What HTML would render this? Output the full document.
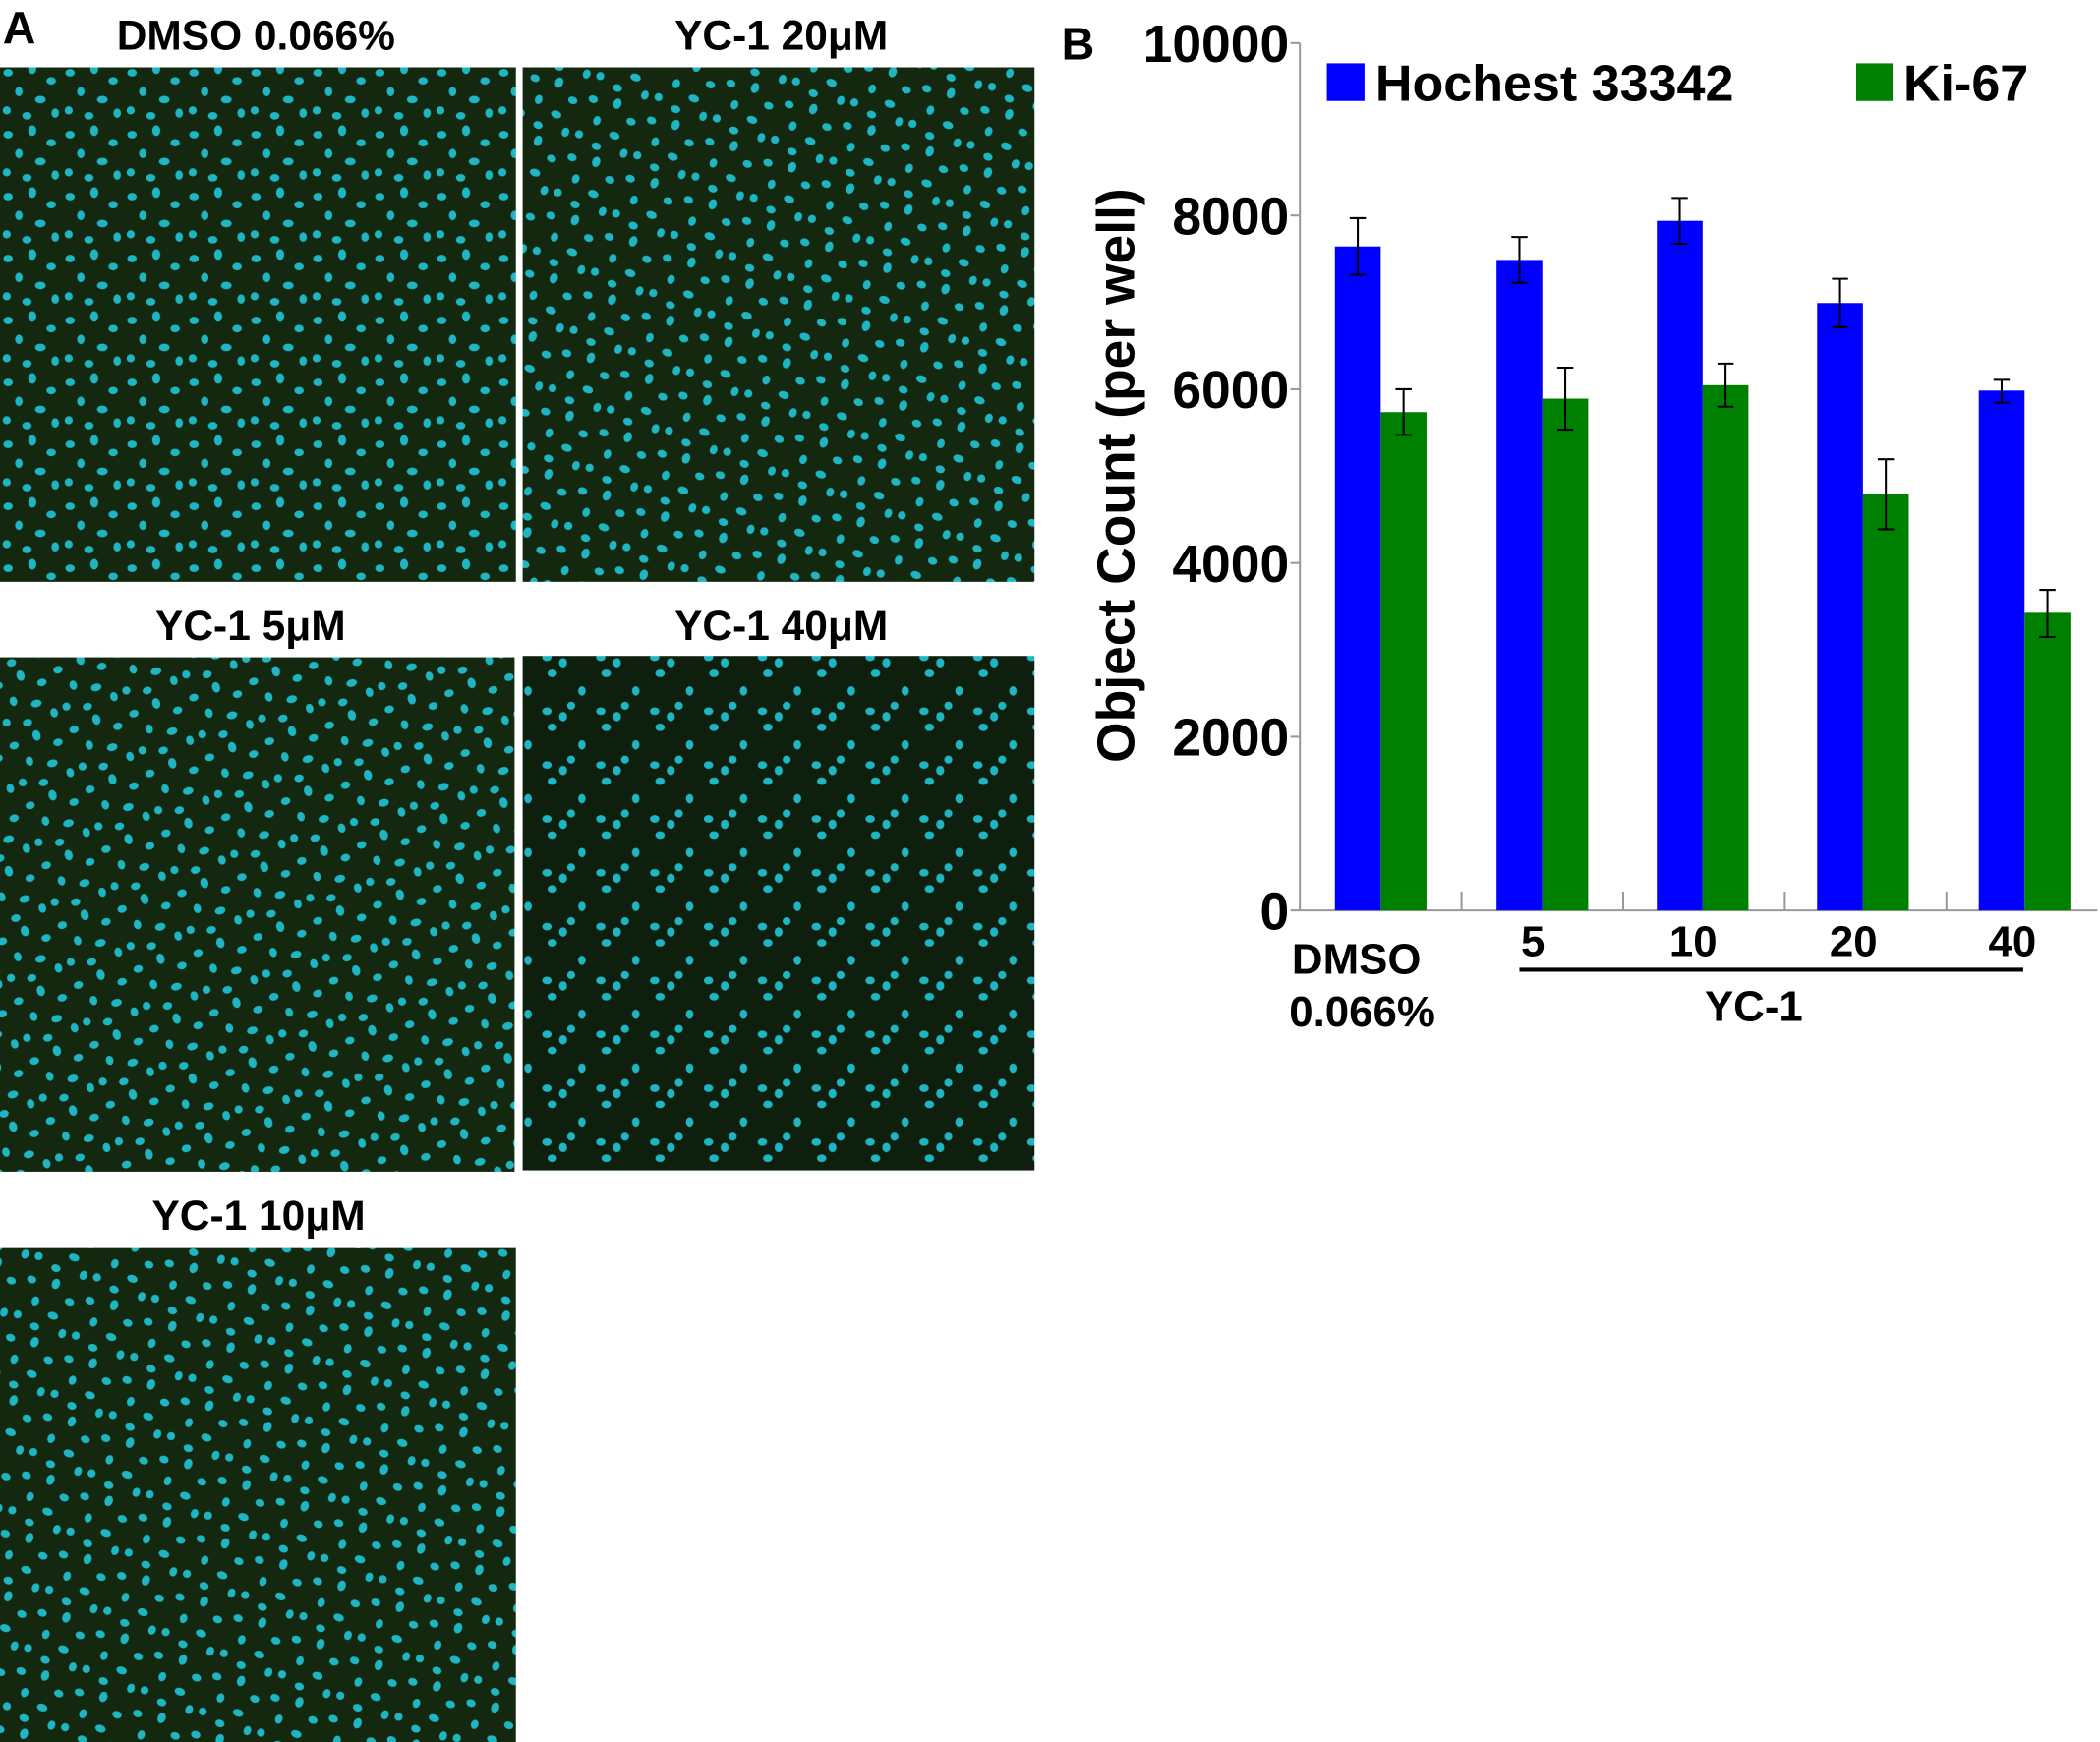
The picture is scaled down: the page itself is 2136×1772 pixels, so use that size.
<!DOCTYPE html>
<html><head><meta charset="utf-8"><style>html,body{margin:0;padding:0;background:#fff}svg{display:block}</style></head>
<body>
<svg width="2136" height="1772" viewBox="0 0 1559 1293.4" preserveAspectRatio="none" xmlns="http://www.w3.org/2000/svg" font-family="Liberation Sans, Arial, sans-serif" font-weight="bold">
<defs>
<pattern id="cells" width="46" height="46" patternUnits="userSpaceOnUse">
<rect width="46" height="46" fill="#13280f"/>
<g fill="#1fb5c2">
<ellipse cx="6" cy="8" rx="3.5" ry="2.8"/>
<ellipse cx="24" cy="5" rx="3" ry="4"/>
<ellipse cx="38" cy="14" rx="3.5" ry="2.8"/>
<ellipse cx="14" cy="22" rx="2.8" ry="3.5"/>
<ellipse cx="30" cy="28" rx="4" ry="2.8"/>
<ellipse cx="5" cy="36" rx="3" ry="3"/>
<ellipse cx="20" cy="40" rx="3.5" ry="2.8"/>
<ellipse cx="41" cy="38" rx="2.8" ry="3.5"/>
</g>
</pattern>
<pattern id="cells2" href="#cells" patternTransform="translate(17,9) rotate(20)"/>
<pattern id="cells3" href="#cells" patternTransform="translate(5,23) rotate(-15)"/>
<pattern id="cells4" width="40" height="40" patternUnits="userSpaceOnUse">
<rect width="40" height="40" fill="#0e1f0d"/>
<g fill="#1fb5c2">
<ellipse cx="6" cy="8" rx="3.5" ry="2.8"/>
<ellipse cx="18" cy="12" rx="3" ry="3.5"/>
<ellipse cx="10" cy="20" rx="3.5" ry="2.8"/>
<ellipse cx="32" cy="33" rx="2.8" ry="3.5"/>
<ellipse cx="24" cy="4" rx="3" ry="3"/>
</g>
</pattern>
</defs>

<text x="2" y="32" font-size="34">A</text>
<text x="190" y="37" font-size="31" text-anchor="middle">DMSO 0.066%</text>
<text x="580" y="37" font-size="31" text-anchor="middle">YC-1 20μM</text>
<text x="186" y="475" font-size="31" text-anchor="middle">YC-1 5μM</text>
<text x="580" y="475" font-size="31" text-anchor="middle">YC-1 40μM</text>
<text x="192" y="913" font-size="31" text-anchor="middle">YC-1 10μM</text>

<rect x="0" y="50" width="383" height="382" fill="url(#cells)"/>
<rect x="388" y="50" width="380" height="382" fill="url(#cells2)"/>
<rect x="0" y="488" width="382" height="382" fill="url(#cells3)"/>
<rect x="388" y="487" width="380" height="382" fill="url(#cells4)"/>
<rect x="0" y="926" width="383" height="368" fill="url(#cells2)"/>

<text x="788" y="44" font-size="34">B</text>
<line x1="965" y1="32" x2="965" y2="676" stroke="#999" stroke-width="1.5"/>
<line x1="965" y1="676" x2="1557" y2="676" stroke="#999" stroke-width="1.5"/>
<g stroke="#999" stroke-width="1.5">
<line x1="958" y1="32" x2="965" y2="32"/><line x1="958" y1="160" x2="965" y2="160"/>
<line x1="958" y1="289" x2="965" y2="289"/><line x1="958" y1="418" x2="965" y2="418"/>
<line x1="958" y1="547" x2="965" y2="547"/><line x1="958" y1="676" x2="965" y2="676"/>
<line x1="1085" y1="662" x2="1085" y2="676"/><line x1="1205" y1="662" x2="1205" y2="676"/>
<line x1="1325" y1="662" x2="1325" y2="676"/><line x1="1445" y1="662" x2="1445" y2="676"/>
</g>
<g font-size="39" text-anchor="end">
<text x="957" y="46">10000</text><text x="957" y="174">8000</text>
<text x="957" y="303">6000</text><text x="957" y="432">4000</text>
<text x="957" y="561">2000</text><text x="957" y="690">0</text>
</g>
<text transform="translate(842,353) rotate(-90)" font-size="39" text-anchor="middle">Object Count (per well)</text>

<rect x="985" y="47" width="28" height="28" fill="#0000ff"/>
<text x="1021" y="75" font-size="38">Hochest 33342</text>
<rect x="1378" y="47" width="27" height="28" fill="#008000"/>
<text x="1413" y="75" font-size="38">Ki-67</text>

<g fill="#0000ff">
<rect x="991" y="183" width="34" height="493"/>
<rect x="1111" y="193" width="34" height="483"/>
<rect x="1230" y="164" width="34" height="512"/>
<rect x="1349" y="225" width="34" height="451"/>
<rect x="1469" y="290" width="34" height="386"/>
</g>
<g fill="#008000">
<rect x="1025" y="306" width="34" height="370"/>
<rect x="1145" y="296" width="34" height="380"/>
<rect x="1264" y="286" width="34" height="390"/>
<rect x="1383" y="367" width="34" height="309"/>
<rect x="1503" y="455" width="34" height="221"/>
</g>
<g stroke="#000" stroke-width="1.5" fill="none">
<path d="M1008 162V204M1002 162H1014M1002 204H1014"/>
<path d="M1128 176V210M1122 176H1134M1122 210H1134"/>
<path d="M1247 147V181M1241 147H1253M1241 181H1253"/>
<path d="M1366 207V243M1360 207H1372M1360 243H1372"/>
<path d="M1486 282V299M1480 282H1492M1480 299H1492"/>
<path d="M1042 289V323M1036 289H1048M1036 323H1048"/>
<path d="M1162 273V319M1156 273H1168M1156 319H1168"/>
<path d="M1281 270V302M1275 270H1287M1275 302H1287"/>
<path d="M1400 341V393M1394 341H1406M1394 393H1406"/>
<path d="M1520 438V473M1514 438H1526M1514 473H1526"/>
</g>

<g font-size="32">
<text x="959" y="723">DMSO</text>
<text x="957" y="762">0.066%</text>
<text x="1138" y="710" text-anchor="middle">5</text>
<text x="1257" y="710" text-anchor="middle">10</text>
<text x="1376" y="710" text-anchor="middle">20</text>
<text x="1494" y="710" text-anchor="middle">40</text>
<text x="1302" y="758" text-anchor="middle">YC-1</text>
</g>
<line x1="1128" y1="720" x2="1502" y2="720" stroke="#000" stroke-width="3"/>
</svg>
</body></html>
